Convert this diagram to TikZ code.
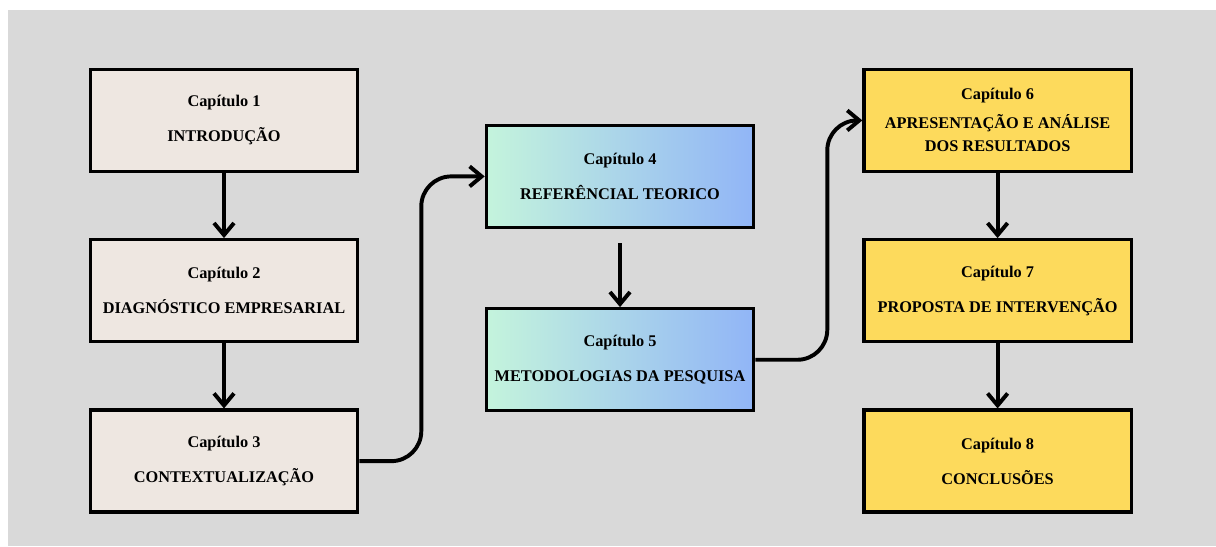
\documentclass[tikz,border=0pt]{standalone}
\usepackage{fontspec}
\setmainfont{Liberation Serif}
\usetikzlibrary{arrows.meta,positioning}
\definecolor{bggray}{HTML}{D9D9D9}
\definecolor{beige}{HTML}{EEE7E1}
\definecolor{mint}{HTML}{C4F4DC}
\definecolor{skyblue}{HTML}{91B5F7}
\definecolor{gold}{HTML}{FDDA5C}

\begin{document}
\begin{tikzpicture}[
  node distance=1.625cm and 3.15cm,
  box/.style={draw,line width=2.4pt,align=center,minimum height=2.55cm,minimum width=6.68cm,inner sep=0pt,font=\bfseries\fontsize{11.6}{17}\selectfont},
  intro/.style={box,fill=beige},
  theory/.style={box,left color=mint,right color=skyblue},
  result/.style={box,fill=gold},
  arr/.style={-{Straight Barb[length=3mm,width=5mm]},line width=2.8pt},
  link/.style={arr,rounded corners=7.5mm}
]
\fill[white] (0,0) rectangle (30.4,-13.65);
\fill[bggray] (0.2,-0.25) rectangle (30.4,-13.65);
\useasboundingbox (0,0) rectangle (30.4,-13.65);
\node[intro] (cap1) at (5.6,-3.01) {Capítulo 1\\[8pt]INTRODUÇÃO};
\node[intro,below=of cap1] (cap2) {Capítulo 2\\[8pt]DIAGNÓSTICO EMPRESARIAL};
\node[intro,below=of cap2] (cap3) {Capítulo 3\\[8pt]CONTEXTUALIZAÇÃO};
\node[theory] (cap4) at (15.5,-4.41) {Capítulo 4\\[8pt]REFERÊNCIAL TEORICO};
\node[theory,below=1.95cm of cap4] (cap5) {Capítulo 5\\[8pt]METODOLOGIAS DA PESQUISA};
\node[result] (cap6) at (24.94,-3.01) {Capítulo 6\\[3pt]APRESENTAÇÃO E ANÁLISE\\DOS RESULTADOS};
\node[result,below=of cap6] (cap7) {Capítulo 7\\[8pt]PROPOSTA DE INTERVENÇÃO};
\node[result,below=of cap7] (cap8) {Capítulo 8\\[8pt]CONCLUSÕES};
\draw[arr] (cap1) -- (cap2);
\draw[arr] (cap2) -- (cap3);
\draw[arr,shorten <=3.5mm] (cap4) -- (cap5);
\draw[arr] (cap6) -- (cap7);
\draw[arr] (cap7) -- (cap8);
\draw[link] (cap3.east) -- ++(1.55,0) |- (cap4.west);
\draw[link] (cap5.east) -- ++(1.8,0) |- (cap6.west);
\end{tikzpicture}
\end{document}
